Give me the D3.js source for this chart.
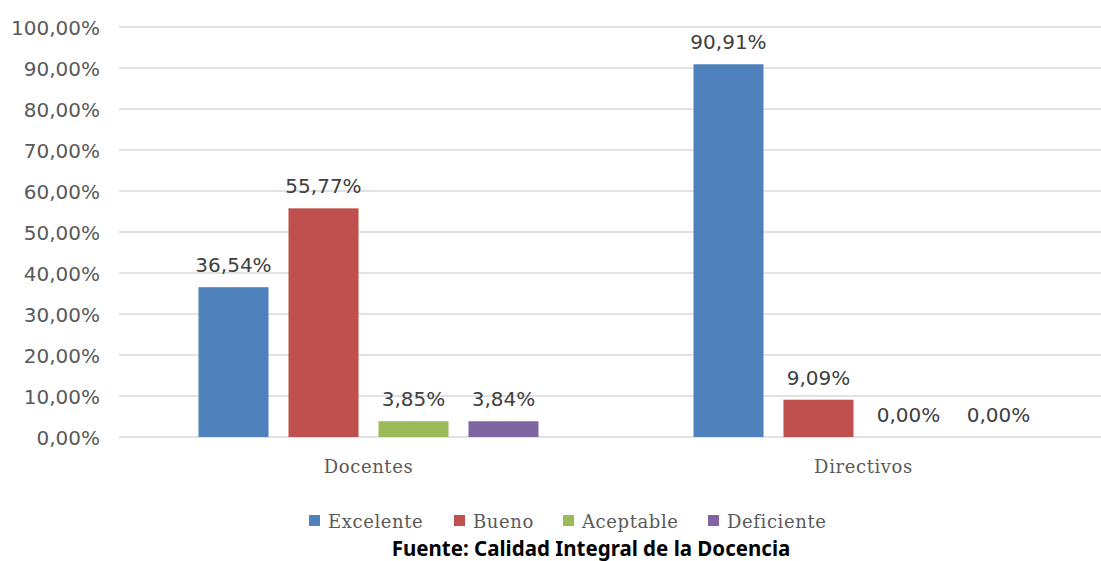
<!DOCTYPE html>
<html>
<head>
<meta charset="utf-8">
<script src="https://cdn.jsdelivr.net/npm/d3@7"></script>
<style>
  body { margin: 0; background: #fff; }
</style>
</head>
<body>
<svg id="drawing_region"></svg>
<script>
const groups = ['Docentes', 'Directivos'];
const levels = ['Excelente', 'Bueno', 'Aceptable', 'Deficiente'];
const docentes = [36.54, 55.77, 3.85, 3.84];
const directivos = [90.91, 9.09, 0.00, 0.00];
const yTicks = [0, 10, 20, 30, 40, 50, 60, 70, 80, 90, 100];
const colors = ['#4f81bd', '#c0504d', '#9bbb59', '#8064a2'];

const data = groups.map((g, i) => ({
  group: g,
  values: (i === 0 ? docentes : directivos).map((v, j) => ({ level: levels[j], value: v }))
}));

const width = 1101, height = 561;
const fmt = v => v.toFixed(2).replace('.', ',') + '%';

const svg = d3.select('#drawing_region')
  .attr('width', width)
  .attr('height', height);

const x0 = d3.scaleBand()
  .domain(groups)
  .range([121, 1111]);

const x1 = d3.scaleBand()
  .domain(levels)
  .range([0, x0.bandwidth()])
  .paddingInner(0.222)
  .paddingOuter(0.861);

const y = d3.scaleLinear()
  .domain([0, 100])
  .range([437, 27]);

const color = d3.scaleOrdinal().domain(levels).range(colors);

// gridlines
svg.append('g')
  .selectAll('line')
  .data(yTicks)
  .join('line')
  .attr('x1', 119)
  .attr('x2', width)
  .attr('y1', d => y(d))
  .attr('y2', d => y(d))
  .attr('stroke', '#d9d9d9')
  .attr('stroke-width', 1.5);

// y axis labels
const yAxis = svg.append('g')
  .attr('transform', 'translate(100,0)')
  .call(d3.axisLeft(y).tickValues(yTicks).tickSize(0).tickPadding(0).tickFormat(fmt));
yAxis.select('.domain').remove();
yAxis.selectAll('text')
  .attr('fill', '#595959')
  .attr('font-family', 'DejaVu Sans')
  .attr('font-size', '20px')
  .attr('dy', '0.36em');

// bars
const g = svg.append('g')
  .selectAll('g')
  .data(data)
  .join('g')
  .attr('transform', d => `translate(${x0(d.group)},0)`);

g.selectAll('rect')
  .data(d => d.values)
  .join('rect')
  .attr('x', d => x1(d.level))
  .attr('y', d => y(d.value))
  .attr('width', x1.bandwidth())
  .attr('height', d => y(0) - y(d.value))
  .attr('fill', d => color(d.level));

g.selectAll('text')
  .data(d => d.values)
  .join('text')
  .attr('x', d => x1(d.level) + x1.bandwidth() / 2)
  .attr('y', d => y(d.value) - 15)
  .attr('text-anchor', 'middle')
  .attr('fill', '#404040')
  .attr('font-family', 'DejaVu Sans')
  .attr('font-size', '20px')
  .text(d => fmt(d.value));

// category labels
svg.append('g')
  .selectAll('text')
  .data(groups)
  .join('text')
  .attr('x', d => x0(d) + x0.bandwidth() / 2)
  .attr('y', 473)
  .attr('text-anchor', 'middle')
  .attr('fill', '#595959')
  .attr('font-family', 'DejaVu Serif')
  .attr('font-size', '18px')
  .attr('letter-spacing', '0.6px')
  .text(d => d);

// legend
const legendX = [309, 454, 563, 708];
const legend = svg.append('g')
  .selectAll('g')
  .data(levels)
  .join('g')
  .attr('transform', (d, i) => `translate(${legendX[i]},515)`);

legend.append('rect')
  .attr('width', 11)
  .attr('height', 11)
  .attr('fill', d => color(d));

legend.append('text')
  .attr('x', 19)
  .attr('y', 13)
  .attr('fill', '#595959')
  .attr('font-family', 'DejaVu Serif')
  .attr('font-size', '18px')
  .attr('letter-spacing', '0.6px')
  .text(d => d);

svg.append('text')
  .attr('x', 591)
  .attr('y', 556)
  .attr('text-anchor', 'middle')
  .attr('fill', '#000')
  .attr('font-family', 'Noto Sans')
  .attr('font-weight', 'bold')
  .attr('font-size', '20.5px')
  .text('Fuente: Calidad Integral de la Docencia');
</script>
</body>
</html>
